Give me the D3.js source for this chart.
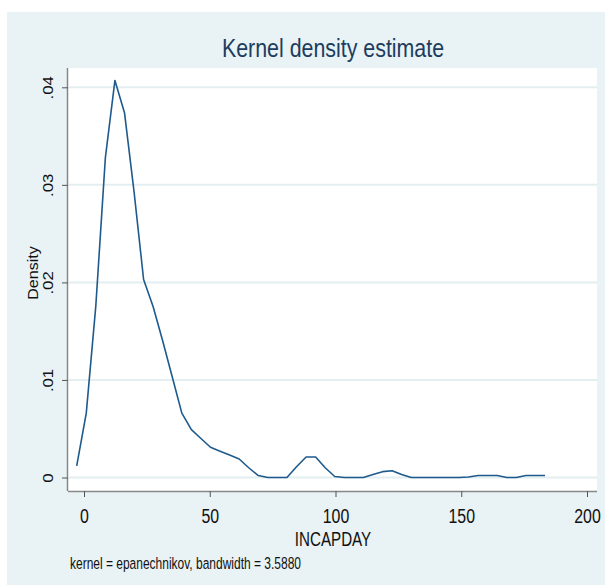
<!DOCTYPE html>
<html>
<head>
<meta charset="utf-8">
<script src="https://cdn.jsdelivr.net/npm/d3@7"></script>
<style>
  body { margin: 0; background: #fff; }
  svg { display: block; font-family: "Liberation Sans", Arial, sans-serif; }
</style>
</head>
<body>
<div id="chart-area"></div>
<script>
// evaluation points of the kernel density (x) and estimated density (y)
const gridX = [-2.9, 0.9, 4.7, 8.5, 12.3, 16.1, 19.9, 23.7, 27.5, 31.3, 35.1, 38.9, 42.7, 46.5, 50.3,
  54.1, 57.9, 61.7, 65.5, 69.3, 73.1, 76.9, 80.7, 84.5, 88.3, 92.1, 95.9, 99.7, 103.5, 107.3, 111.1,
  114.9, 118.7, 122.5, 126.3, 130.1, 133.9, 137.7, 141.5, 145.3, 149.1, 152.9, 156.7, 160.5, 164.3,
  168.1, 171.9, 175.7, 179.5, 183.3];
const density = [0.0012, 0.0066, 0.0176, 0.0328, 0.0407, 0.0374, 0.0293, 0.0203, 0.0175, 0.0140,
  0.0103, 0.0066, 0.0049, 0.0040, 0.0031, 0.0027, 0.0023, 0.0019, 0.0010, 0.0002, 0.0000, 0.0000,
  0.0000, 0.0011, 0.0021, 0.0021, 0.0010, 0.0001, 0.0000, 0.0000, 0.0000, 0.0003, 0.0006, 0.0007,
  0.0003, 0.0000, 0.0000, 0.0000, 0.0000, 0.0000, 0.0000, 0.00005, 0.0002, 0.0002, 0.0002, 0.0000,
  0.0000, 0.0002, 0.0002, 0.0002];
const xTicks = [0, 50, 100, 150, 200];
const yTicks = [0, 0.01, 0.02, 0.03, 0.04];
const yTickLabels = ["0", ".01", ".02", ".03", ".04"];

const SVG_WIDTH = 609;
const SVG_HEIGHT = 585;
const plot = { left: 68, right: 597, top: 68, bottom: 491 };

const svg = d3.select("#chart-area").append("svg")
  .attr("width", SVG_WIDTH).attr("height", SVG_HEIGHT);

// graph region
svg.append("rect").attr("x", 7).attr("y", 12).attr("width", 598).attr("height", 573)
  .attr("fill", "#e9f2f4");
// plot region
svg.append("rect").attr("x", plot.left).attr("y", plot.top)
  .attr("width", plot.right - plot.left).attr("height", plot.bottom - plot.top)
  .attr("fill", "#ffffff");

const x = d3.scaleLinear().domain([0, 200]).range([84, 587]);
const y = d3.scaleLinear().domain([0, 0.04]).range([477.5, 87.3]);

// grid lines
svg.append("g").selectAll("line").data(yTicks).enter().append("line")
  .attr("x1", plot.left + 1).attr("x2", plot.right)
  .attr("y1", d => y(d)).attr("y2", d => y(d))
  .attr("stroke", "#e3eef1").attr("stroke-width", 2);

// axes
const xAxisCall = d3.axisBottom(x).tickValues(xTicks).tickSize(6).tickSizeOuter(0);
const xAxisGroup = svg.append("g").attr("transform", `translate(0, ${plot.bottom})`).call(xAxisCall);
xAxisGroup.select(".domain").attr("d", `M${plot.left},0.5H${plot.right}`);
xAxisGroup.selectAll("line").attr("stroke", "#555");
xAxisGroup.selectAll(".domain").attr("stroke", "#888").attr("stroke-width", 1.5);
xAxisGroup.selectAll("text")
  .attr("font-size", "18.5px").attr("fill", "#111")
  .attr("y", 29.4).attr("dy", 0)
  .attr("transform", "scale(0.86,1.1)");

const yAxisCall = d3.axisLeft(y).tickValues(yTicks).tickSize(6).tickSizeOuter(0)
  .tickFormat((d, i) => yTickLabels[i]);
const yAxisGroup = svg.append("g").attr("transform", `translate(${plot.left}, 0)`).call(yAxisCall);
yAxisGroup.select(".domain").attr("d", `M-0.5,${plot.top}V${plot.bottom}`);
yAxisGroup.selectAll("line").attr("stroke", "#555");
yAxisGroup.selectAll(".domain").attr("stroke", "#888").attr("stroke-width", 1.5);
yAxisGroup.selectAll("text")
  .attr("x", null).attr("dy", null)
  .attr("text-anchor", "middle")
  .attr("font-size", "15px").attr("fill", "#111")
  .attr("transform", "translate(-15,0) rotate(-90) scale(1.12,1)");

// density curve
const line = d3.line().x((d, i) => x(gridX[i])).y(d => y(d));
svg.append("path").datum(density)
  .attr("d", line)
  .attr("fill", "none")
  .attr("stroke", "#1e5a8c")
  .attr("stroke-width", 1.6)
  .attr("stroke-linejoin", "round");

// texts
svg.append("text").attr("text-anchor", "middle")
  .attr("transform", "translate(333, 57) scale(0.93,1.12)")
  .attr("font-size", "23px").attr("fill", "#1c3d5e")
  .text("Kernel density estimate");

svg.append("text").attr("text-anchor", "middle")
  .attr("transform", "translate(333, 546) scale(0.82,1.1)")
  .attr("font-size", "18.5px").attr("fill", "#111")
  .text("INCAPDAY");

svg.append("text").attr("text-anchor", "middle")
  .attr("transform", "translate(38, 273) rotate(-90) scale(1.15,1)")
  .attr("font-size", "14px").attr("fill", "#111")
  .text("Density");

svg.append("text").attr("text-anchor", "start")
  .attr("transform", "translate(70, 569) scale(0.8,1.1)")
  .attr("font-size", "15px").attr("fill", "#111")
  .text("kernel = epanechnikov, bandwidth = 3.5880");
</script>
</body>
</html>
